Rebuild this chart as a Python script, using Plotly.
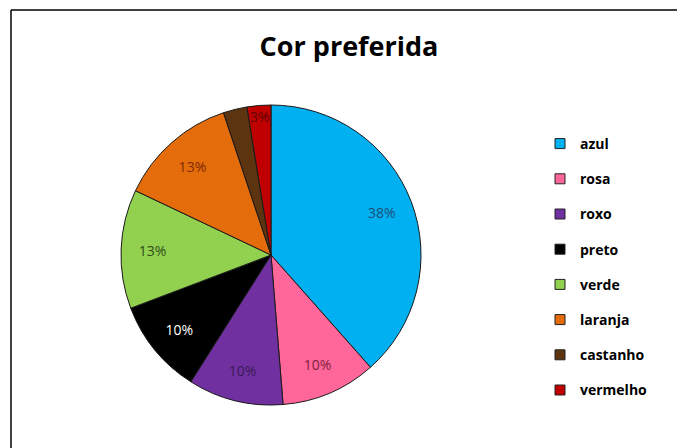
import plotly.graph_objects as go

categories = ["azul", "rosa", "roxo", "preto", "verde", "laranja", "castanho", "vermelho"]
counts = [15, 4, 4, 4, 5, 5, 1, 1]
colors = ["#00B0F0", "#FF6699", "#7030A0", "#000000", "#92D050", "#E46C0A", "#5C3410", "#C00000"]
label_colors = ["#1F4E79", "#7F1F3F", "#3B1A5A", "#FFFFFF", "#2F4F1A", "#7F2A05", "#5C3410", "#600000"]

OFF = 8  # page body margin
W, H = 685 - OFF, 448 - OFF


def px(x):
    return (x - OFF) / W


def py(y):
    return 1 - (y - OFF) / H


dom_x = [px(121), px(421)]
dom_y = [py(405), py(105)]

fig = go.Figure()

# solid pie
fig.add_trace(go.Pie(
    labels=categories, values=counts, sort=False, direction="clockwise", rotation=0,
    marker=dict(colors=colors, line=dict(color="#1a1a1a", width=1)),
    textinfo="none", showlegend=False, hoverinfo="label+percent",
    domain=dict(x=dom_x, y=dom_y),
))

# transparent ring carrying the percentage labels
fig.add_trace(go.Pie(
    labels=categories, values=counts, sort=False, direction="clockwise", rotation=0,
    hole=0.58,
    marker=dict(colors=["rgba(0,0,0,0)"] * len(categories), line=dict(width=0)),
    texttemplate="%{percent:.0%}", textposition="inside", insidetextorientation="horizontal",
    textfont=dict(family="Open Sans", size=14, color=label_colors),
    showlegend=False, hoverinfo="skip",
    domain=dict(x=dom_x, y=dom_y),
))

# legend entries
for name, c in zip(categories, colors):
    fig.add_trace(go.Scatter(
        x=[None], y=[None], mode="markers", name=name, legendgroup=name,
        marker=dict(symbol="square", size=10, color=c, line=dict(color="#222", width=1)),
        hoverinfo="skip",
    ))

fig.update_layout(
    width=W, height=H,
    margin=dict(l=0, r=0, t=0, b=0),
    paper_bgcolor="white", plot_bgcolor="white",
    xaxis=dict(visible=False), yaxis=dict(visible=False),
    title=dict(text="<b>Cor preferida</b>", x=px(349), xanchor="center", y=py(47), yanchor="middle",
               font=dict(family="Open Sans", size=27, color="#000")),
    legend=dict(x=px(540), xanchor="left", y=py(128), yanchor="top",
                font=dict(family="Open Sans", size=14, color="#000", weight="bold"),
                tracegroupgap=14, bgcolor="rgba(0,0,0,0)", itemclick=False),
    uniformtext=dict(minsize=14, mode="show"),
    shapes=[
        dict(type="line", xref="paper", yref="paper", x0=px(11), x1=px(11), y0=py(10), y1=-0.05,
             line=dict(color="#000", width=1.5)),
        dict(type="line", xref="paper", yref="paper", x0=px(11), x1=px(684), y0=py(10), y1=py(10),
             line=dict(color="#000", width=1.5)),
        dict(type="line", xref="paper", yref="paper", x0=px(684), x1=px(684), y0=py(10), y1=-0.05,
             line=dict(color="#ccc", width=1)),
    ],
)

fig.write_html("out.html")
